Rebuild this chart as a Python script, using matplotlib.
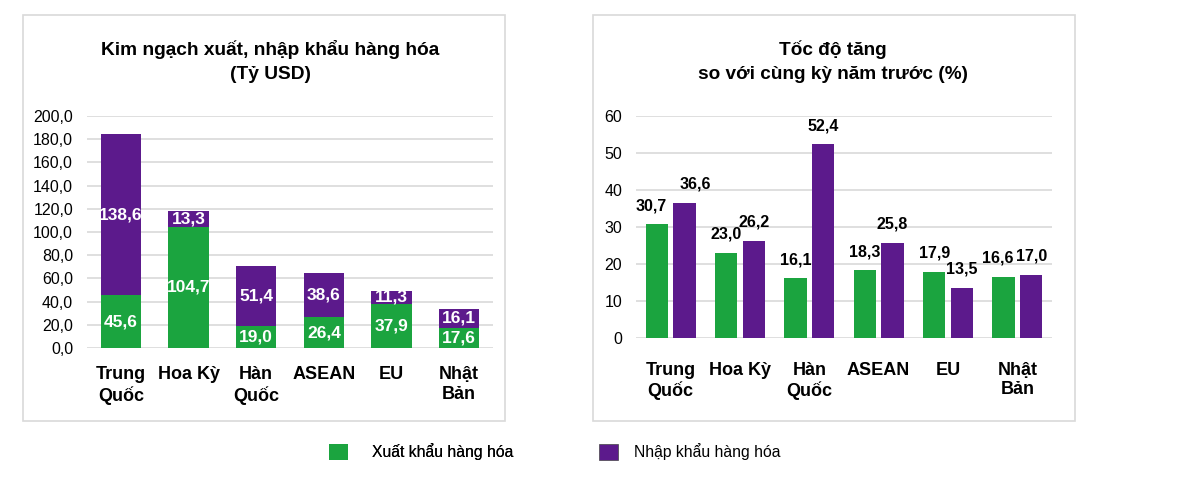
import numpy as np
import matplotlib
matplotlib.use('Agg')
import matplotlib.pyplot as plt
from matplotlib.patches import Rectangle, Patch

plt.rcParams['font.family'] = ['Liberation Sans', 'DejaVu Sans']

# --- Data ---
categories = ['Trung\nQuốc', 'Hoa Kỳ', 'Hàn\nQuốc', 'ASEAN', 'EU', 'Nhật\nBản']
export_value = [45.6, 104.7, 19.0, 26.4, 37.9, 17.6]     # Tỷ USD
import_value = [138.6, 13.3, 51.4, 38.6, 11.3, 16.1]     # Tỷ USD
export_growth = [30.7, 23.0, 16.1, 18.3, 17.9, 16.6]     # %
import_growth = [36.6, 26.2, 52.4, 25.8, 13.5, 17.0]     # %
left_ticks = np.arange(0, 201, 20)
right_ticks = np.arange(0, 61, 10)

GREEN = '#1ba43f'
PURPLE = '#5c1a8c'
GRID = '#d9d9d9'

# small horizontal nudges (px) for growth labels that were moved apart in the original
NUDGE_EXPORT = {0: -6, 5: -6}
NUDGE_IMPORT = {0: 11}


def fmt(v, digits=1):
    return f"{v:.{digits}f}".replace('.', ',')


def style_axes(ax, ticks, digits):
    for s in ax.spines.values():
        s.set_visible(False)
    ax.set_yticks(ticks)
    ax.set_yticklabels([fmt(t, digits) if digits else f"{t:d}" for t in ticks], fontsize=11.5)
    ax.yaxis.grid(True, color=GRID, linewidth=1.2)
    ax.set_axisbelow(True)
    ax.tick_params(axis='both', length=0)
    ax.tick_params(axis='y', pad=10)


fig = plt.figure(figsize=(12, 4.84), dpi=100)

# panel frames
for x0, x1 in [(23, 505), (593, 1075)]:
    fig.patches.append(Rectangle((x0 / 1200, 1 - 421 / 484), (x1 - x0) / 1200, (421 - 15) / 484,
                                 transform=fig.transFigure, fill=False, edgecolor=GRID, linewidth=1.2))

x = np.arange(len(categories))

# --- Left: stacked values ---
ax1 = fig.add_axes([87 / 1200, 1 - 348 / 484, 406 / 1200, 232 / 484])
ax1.bar(x, export_value, width=0.6, color=GREEN)
ax1.bar(x, import_value, width=0.6, bottom=export_value, color=PURPLE)
for i in range(len(x)):
    ax1.text(x[i], export_value[i] / 2, fmt(export_value[i]), ha='center', va='center',
             color='white', fontsize=12.5, fontweight='bold')
    ax1.text(x[i], export_value[i] + import_value[i] / 2, fmt(import_value[i]), ha='center', va='center',
             color='white', fontsize=12.5, fontweight='bold')
ax1.set_xlim(-0.5, len(x) - 0.5)
ax1.set_ylim(0, 200)
style_axes(ax1, left_ticks, 1)
ax1.set_xticks(x)
ax1.set_xticklabels(categories, fontsize=13, fontweight='bold')
ax1.tick_params(axis='x', pad=13)

# --- Right: growth rates ---
ax2 = fig.add_axes([636 / 1200, 1 - 338 / 484, 416 / 1200, 222 / 484])
ax2.bar(x - 0.2, export_growth, width=0.32, color=GREEN)
ax2.bar(x + 0.2, import_growth, width=0.32, color=PURPLE)
for i in range(len(x)):
    ax2.annotate(fmt(export_growth[i]), (x[i] - 0.2, export_growth[i]),
                 xytext=(NUDGE_EXPORT.get(i, 0) * 0.72, 8), textcoords='offset points',
                 ha='center', va='bottom', fontsize=11.5, fontweight='bold')
    ax2.annotate(fmt(import_growth[i]), (x[i] + 0.2, import_growth[i]),
                 xytext=(NUDGE_IMPORT.get(i, 0) * 0.72, 8), textcoords='offset points',
                 ha='center', va='bottom', fontsize=11.5, fontweight='bold')
ax2.set_xlim(-0.5, len(x) - 0.5)
ax2.set_ylim(0, 60)
style_axes(ax2, right_ticks, 0)
ax2.set_xticks(x)
ax2.set_xticklabels(categories, fontsize=13, fontweight='bold')
ax2.tick_params(axis='x', pad=17)

# --- Titles ---
fig.text(270 / 1200, 1 - 61.5 / 484, 'Kim ngạch xuất, nhập khẩu hàng hóa\n(Tỷ USD)', ha='center', va='center',
         fontsize=13.8, fontweight='bold', linespacing=1.5)
fig.text(833 / 1200, 1 - 61.5 / 484, 'Tốc độ tăng\nso với cùng kỳ năm trước (%)', ha='center', va='center',
         fontsize=13.7, fontweight='bold', linespacing=1.5)

# --- Legend (two single-entry legends so each sits where the original has it) ---
leg_kw = dict(loc='center left', frameon=False, fontsize=11.3, handlelength=1.2, handleheight=1.15,
              borderpad=0, borderaxespad=0)
leg1 = fig.legend(handles=[Patch(facecolor=GREEN, label='Xuất khẩu hàng hóa')],
                  bbox_to_anchor=(329 / 1200, 1 - 452 / 484), handletextpad=1.55, **leg_kw)
fig.add_artist(leg1)
fig.legend(handles=[Patch(facecolor=PURPLE, edgecolor='#444444', linewidth=0.5, label='Nhập khẩu hàng hóa')],
           bbox_to_anchor=(599 / 1200, 1 - 452 / 484), handletextpad=1.0, **leg_kw)

fig.savefig('out.png', dpi=100)
plt.close(fig)
